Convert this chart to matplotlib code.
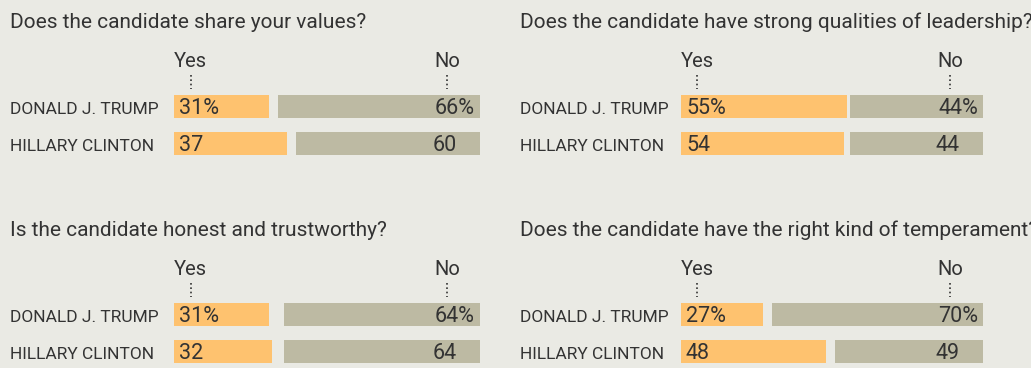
import matplotlib
matplotlib.use("Agg")
import matplotlib.pyplot as plt
from matplotlib.transforms import offset_copy

# Survey questions and results (percent of registered voters)
questions = [
    "Does the candidate share your values?",
    "Does the candidate have strong qualities of leadership?",
    "Is the candidate honest and trustworthy?",
    "Does the candidate have the right kind of temperament?",
]
candidates = ["DONALD J. TRUMP", "HILLARY CLINTON"]
yes_values = [[31, 37], [55, 54], [31, 32], [27, 48]]
no_values = [[66, 60], [44, 44], [64, 64], [70, 49]]
header_labels = ["Yes", "No"]

BG = "#EAEAE4"
YES_COLOR = "#FEC26F"
NO_COLOR = "#BDBAA3"
TEXT = "#333333"
FONT = ["Roboto", "DejaVu Sans"]

W, H = 1031, 368
fig = plt.figure(figsize=(W / 100, H / 100), dpi=100, facecolor=BG)

# panel geometry in pixels: (title x, bar-scale left, bar-scale right, top offset)
panels = [
    (10, 174, 480, 0),
    (520, 681, 983, 0),
    (10, 174, 480, 208),
    (520, 681, 983, 208),
]
row_pitch = 36.7          # px between row centers
first_row_center = 106.7  # px from top, upper panels
title_baseline = 27.7

for i, (tx, x0, x1, dy) in enumerate(panels):
    c0 = first_row_center + dy
    top = c0 - row_pitch * 0.5
    ax = fig.add_axes([x0 / W, 1 - (top + 2 * row_pitch) / H,
                       (x1 - x0) / W, 2 * row_pitch / H])
    ax.set_xlim(0, 100)
    ax.set_ylim(1.5, -0.5)
    ax.axis("off")

    rows = range(len(candidates))
    yes = yes_values[i]
    no = no_values[i]
    ax.barh(list(rows), yes, left=0, height=0.64, color=YES_COLOR)
    ax.barh(list(rows), no, left=[100 - n for n in no], height=0.64, color=NO_COLOR)

    for r in rows:
        suffix = "%" if r == 0 else ""
        ax.text(0, r + 0.2, f"{yes[r]}{suffix}",
                transform=offset_copy(ax.transData, fig=fig, x=5, y=0, units="dots"),
                ha="left", va="baseline", fontsize=15.5, color=TEXT, family=FONT)
        shift = -5 if r == 0 else -23
        ax.text(100, r + 0.2, f"{no[r]}{suffix}",
                transform=offset_copy(ax.transData, fig=fig, x=shift, y=0, units="dots"),
                ha="right", va="baseline", fontsize=15.5, color=TEXT, family=FONT)
        # candidate name to the left of the bars
        fig.text(tx / W, 1 - (c0 + r * row_pitch + 7.5) / H, candidates[r],
                 ha="left", va="baseline", fontsize=12.5, color=TEXT, family=FONT)

    # Yes / No headers with dotted leaders
    for label, xpos in zip(header_labels, [5.4, 89.2]):
        ax.text(xpos, -1.09, label, ha="center", va="baseline",
                fontsize=14.5, color=TEXT, family=FONT, clip_on=False)
        ax.plot([xpos, xpos], [-0.87, -0.47], color=TEXT, lw=1.2,
                linestyle=(0, (1, 1.6)), clip_on=False)

    fig.text(tx / W, 1 - (title_baseline + dy) / H, questions[i],
             ha="left", va="baseline", fontsize=15, color=TEXT, family=FONT)

fig.savefig("out.png", dpi=100, facecolor=BG)
